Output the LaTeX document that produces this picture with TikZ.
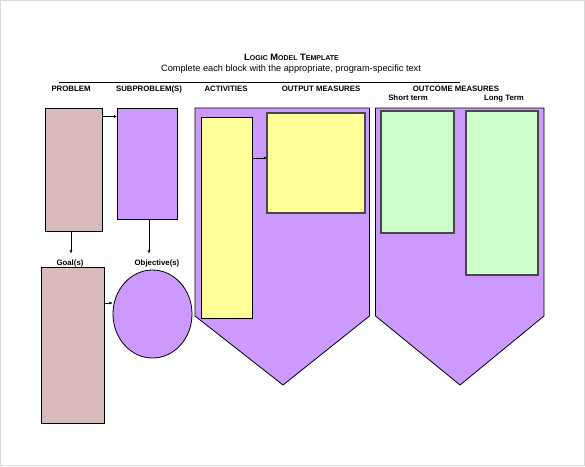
\documentclass[tikz,border=0pt]{standalone}
\usepackage{fontspec}
\setmainfont{Liberation Sans}
\usetikzlibrary{arrows.meta,shapes.geometric}
\definecolor{pinkbox}{HTML}{D8BBBB}
\definecolor{purplebox}{HTML}{CC99FF}
\definecolor{yellowbox}{HTML}{FFFF99}
\definecolor{greenbox}{HTML}{CCFFCC}
\definecolor{pageline}{HTML}{D9D9D9}
\tikzset{
  rbox/.style={draw=black, line width=0.8pt, inner sep=0pt, outer sep=0pt, anchor=north west},
  innerbox/.style={draw=black!72, line width=1.6pt, inner sep=0pt, outer sep=0pt, anchor=north west},
  hdr/.style={font=\bfseries\fontsize{7.8}{9}\selectfont, inner sep=0pt, text height=5.6pt, text depth=1.6pt},
  conn/.style={line width=0.5pt, -{Latex[length=3.2pt,width=3pt]}},
  pent/.style={draw=black, line width=0.8pt, fill=purplebox}
}
\begin{document}
\begin{tikzpicture}[x=1pt,y=-1pt]
\useasboundingbox (0,0) rectangle (585,466);
\draw[pageline, line width=1pt] (0.5,0.5) rectangle (584.5,465.5);

% title
\node[inner sep=0pt] (title) at (291.5,57.5) {\bfseries\fontsize{9.3}{10}\selectfont L{\fontsize{7}{8}\selectfont OGIC} M{\fontsize{7}{8}\selectfont ODEL} T{\fontsize{7}{8}\selectfont EMPLATE}};
\node[inner sep=0pt] (subtitle) at (291,69.5) {\fontsize{9.2}{11}\selectfont Complete each block with the appropriate, program-specific text};
\coordinate (ruleL) at (59,82.5);
\coordinate (ruleR) at (460,82.5);
\draw[line width=0.9pt] (ruleL) -- (ruleR);

% headers
\node[hdr] (hprob) at (71,89.3) {PROBLEM};
\node[hdr] (hsub) at (149,89.3) {SUBPROBLEM(S)};
\node[hdr] (hact) at (226,89.3) {ACTIVITIES};
\node[hdr] (hout) at (321,89.3) {OUTPUT MEASURES};
\node[hdr] (houtc) at (456,89.3) {OUTCOME MEASURES};
\node[hdr] (hshort) at (408,98.2) {Short term};
\node[hdr] (hlong) at (504,98.2) {Long Term};

% pentagons
\draw[pent] (195,108) -- (369.5,108) -- (369.5,316) -- (283,385) -- (195,316) -- cycle;
\draw[pent] (375.5,108) -- (544,108) -- (544,316) -- (460,385) -- (375.5,316) -- cycle;

% left column boxes
\node[rbox, fill=pinkbox, minimum width=57pt, minimum height=123pt] (prob) at (45,108) {};
\node[rbox, fill=purplebox, minimum width=60pt, minimum height=111pt] (sub) at (117,108) {};
\node[hdr] (goal) at (70,263.7) {Goal(s)};
\node[hdr] (obj) at (157,263.7) {Objective(s)};
\node[rbox, fill=pinkbox, minimum width=63pt, minimum height=156pt] (goalbox) at (41,267.5) {};
\node[draw=black, line width=0.8pt, fill=purplebox, ellipse, inner sep=0pt, minimum width=79pt, minimum height=88pt] (objell) at (152.5,314) {};

% activity / output boxes
\node[rbox, fill=yellowbox, minimum width=51pt, minimum height=201pt] (act) at (201,117) {};
\node[innerbox, fill=yellowbox, minimum width=98pt, minimum height=100pt] (out) at (267,113) {};

% outcome boxes
\node[innerbox, fill=greenbox, minimum width=73pt, minimum height=122pt] (short) at (381,111) {};
\node[innerbox, fill=greenbox, minimum width=72pt, minimum height=164pt] (long) at (466,111) {};

% connector end points
\coordinate (goalin) at (71,253.5);
\coordinate (objin) at (149,253.5);

% connectors
\draw[conn] (prob.east |- 0,116.5) -- (sub.west |- 0,116.5);
\draw[conn] (prob.south -| goalin) -- (goalin);
\draw[conn] (sub.south -| objin) -- (objin);
\draw[conn] (goalbox.east |- 0,303) -- (objell.west |- 0,303);
\draw[conn] (act.east |- 0,158) -- (out.west |- 0,158);
\end{tikzpicture}
\end{document}
